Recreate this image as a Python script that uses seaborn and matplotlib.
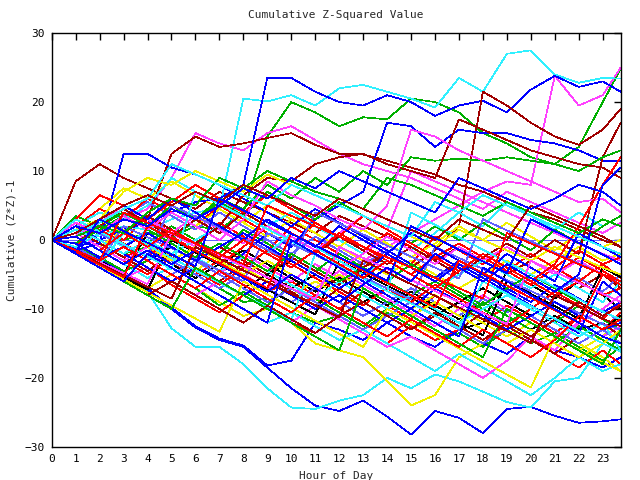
import pandas as pd
import matplotlib
matplotlib.use("Agg")
import matplotlib.pyplot as plt
import seaborn as sns

# ----------------------------------------
# Data: cumulative (Z*Z)-1, sampled each hour (last point 23:45)
# ----------------------------------------
hours = list(range(24)) + [23.75]

red_walks = [
    [0, 1.5, -0.5, -2.5, -1, -3.5, -5, -3, -5.5, -7.5, -6, -8, -10, -7.5, -9.5, -11.5, -8, -10, -12, -9.5, -11.5, -13.5, -11, -13, -10.5],
    [0, -1, 2, 0, 3.5, 1, -1, 2.5, 0.5, -1.5, 2, 0, -2, -4, -1.5, -3.5, 0.5, -1.5, -3.5, -1, -3, -5, -2.5, -4.5, -6],
    [0, -2, -4, -5.5, -4, -6.5, -8.5, -10.5, -8, -10, -12, -13.5, -11, -13, -15, -12.5, -14.5, -13, -15, -12, -14, -16.5, -18.5, -16, -18],
    [0, 2, 4.5, 3, 6, 4, 2, 5, 3, 1, -1, 2.5, 0.5, -1.5, 1, -1, -3, -5, -2.5, -4.5, -6.5, -4, -6, -3.5, -5.5],
    [0, 1, -1, -3, -5, -2.5, -4.5, -6.5, -4, -1.5, -3.5, -5.5, -7.5, -9.5, -7, -9, -6.5, -8.5, -10.5, -12.5, -10, -7.5, -9.5, -11.5, -9],
    [0, -0.5, 1.5, -0.5, -2.5, 0.5, -1.5, -3.5, -1, 2, 0, -2, 1, -1, -3, -5, -2.5, -0.5, -2.5, -4.5, -2, -4, -1.5, -3.5, -2.5],
    [0, 3, 6.5, 5, 3, 5.5, 8, 6, 4, 6.5, 4.5, 2.5, 0.5, 3.5, 1.5, -0.5, -2.5, -4.5, -2, -4, -6, -8, -6, -8, -7],
    [0, -1.5, -3, -1, -3, -5, -7, -4.5, -6.5, -8.5, -10.5, -8, -10, -12, -14, -11.5, -13.5, -15.5, -13, -15, -17, -14.5, -11, -13, -11.5],
    [0, 0.5, -1.5, 1, -1, 1.5, -0.5, -2.5, 0, -2, -4, -1.5, -3.5, -5.5, -3, -5, -7, -4.5, -2, -4, -6, -3.5, 2, 8, 12],
    [0, -1.8, -3.6, -5.4, 2, 0.2, -1.6, -3.4, -5.2, -7, 1, -0.8, -2.6, -4.4, -6.2, -8, -9.8, -3, -4.8, -6.6, -8.4, -10.2, -12, -5, -6.5],
    [0, -1.5, -3, 4, 2.5, 1, -0.5, -2, -3.5, 5, 3.5, 2, 0.5, -1, -2.5, -4, -5.5, -7, -8.5, 1, -0.5, -2, -3.5, -5, -6],
]

green_walks = [
    [0, 1.5, 1, 0, 1, 0.5, 2, 1.5, 4, 15, 20, 18.5, 16.5, 17.8, 17.5, 20.5, 20, 18.5, 15.5, 14, 12, 11, 13.5, 20, 24.8],
    [0, 2, 0, -2, -1, -3, -5, -7, -9, -8.5, -10.5, -12, -11, -13, -10.5, -12.5, -14.5, -13.5, -15.5, -13, -15, -13.5, -15.5, -17.5, -15.5],
    [0, 1, 3, 1.5, -0.5, 2, 0, -2, 1.5, -0.5, -2.5, -4.5, -2, -4, -6, -8, -6, -8, -10, -12, -10, -12, -9.5, -11.5, -13],
    [0, -1, -2.5, -4.5, -3, -5, -7, -9.5, -7.5, -9.5, -6.5, -8.5, -10.5, -12.5, -10, -8, -10, -12, -9, -11, -13, -15, -12.5, -14.5, -16],
    [0, 3.5, 2, 4, 2, 0, 3, 5.5, 3.5, 7, 5, 3, 5.5, 3.5, 1.5, -0.5, 2, 0, 2.5, 0.5, -1.5, 1.5, -0.5, 2, 3.5],
    [0, 1, 2.5, 4, 2, 5, 3, 6, 4.5, 8, 6, 9, 7, 10, 8, 12, 11.5, 11.8, 11.5, 12, 11.5, 11, 10, 12, 13],
    [0, -0.5, 1.5, 3.5, 1.5, -0.5, -2.5, -0.5, -2.5, -4.5, -2, -4, -6, -4, -6, -3.5, -5.5, -7.5, -9.5, -7, -5, -7, -9, -11, -9.5],
    [0, -2, -4, -6, -8, -10, -4, -6, -8, -10, -12, -14, -16, -7, -9, -11, -13, -15, -17, -10, -12, -14, -16, -18, -13],
    [0, 0.5, 2, 1, 4, 6, 5, 9, 7.5, 10, 8.5, 7, 6, 4.5, 9, 8, 6.5, 5, 3.5, 5.5, 4, 2.5, 1, 3, 2],
]

blue_walks = [
    [0, -1.5, -3, -4.8, -7, -10, -12.7, -14.5, -15.5, -18.5, -21.5, -24, -24.8, -23.3, -25.6, -28.2, -24.8, -25.8, -28, -24.5, -24.2, -25.5, -26.5, -26.3, -26],
    [0, -1.3, -2.8, -4.5, -7.2, -9.8, -12.5, -14.3, -15.3, -18.2, -17.5, -12, -13, -14.5, -12, -14, -15.5, -13, -15, -16.5, -14, -16, -17, -18.5, -17],
    [0, -1, 0, 1.5, 2.5, 4, 5.5, 6, 8, 23.5, 23.5, 21.5, 20, 19.5, 21, 20, 18, 19.5, 20.2, 18.5, 21.8, 23.8, 22.2, 23, 21.5],
    [0, -1, 1, -1, -3, -0.5, -2.5, -4.5, -2, 1, -1, 3, 5, 7, 17, 16.5, 13.5, 16, 15.5, 15.5, 14.5, 14, 13, 11.5, 11.5],
    [0, -1.5, -0.5, 12.5, 12.5, 10.5, 9.5, 8, 6, 4, 2, 4.5, 2.5, 0.5, -1.5, -3.5, -5.5, -3, -5, -7, -9, -6.5, -8.5, -10.5, -9],
    [0, 2, 0, -2, -4, -6, -4, -6, -8, -6, -8, -10, -8, -10, -12, -10, -7, -9, -11, -13, -11, -9, -11, -13, -12],
    [0, -0.5, -2.5, -1, 1, -1, -3, -1, 1, -1, -3, -5, -7, -5, -2, -4, -6, -3.5, -5.5, -7.5, -9.5, -11.5, -13.5, -6, -8],
    [0, 1, 3, 5, 3, 6, 4, 2, 0, 3, 1, -1, 2, 0, -2, 1, -1, -3, -5, -2, -4, -6, 1, -1, -2.5],
    [0, 0.5, -1.5, -3.5, -1.5, -3.5, -1.5, -3.5, -5.5, -7.5, -5, -7, -9, -6.5, -4, -6, -2, -4, -6, -3.5, -5.5, -7.5, -5, 8, 10.5],
    [0, -1.7, 3, 1.3, -0.4, -2.1, -3.8, 6, 4.3, 2.6, 0.9, -0.8, -2.5, -4.2, -5.9, 2, 0.3, -1.4, -3.1, -4.8, 3, 1.3, -0.4, -2.1, -3.5],
    [0, -2, -4, -6, -2, -4, -6, -8, -10, -12, 0, -2, -4, -6, -8, -10, -12, -14, -4, -6, -8, -10, -12, -14, -15],
    [0, 2, 1, 3, 2, 4.5, 3, 5, 7.5, 6, 9, 7.5, 10, 8.5, 7, 5.5, 4, 9, 7.5, 6, 4.5, 6, 8, 7, 5],
]

magenta_walks = [
    [0, 2, 1, 3, 4.5, 9, 15.5, 14, 13, 15.5, 16.5, 14.5, 12.5, 11, 10, 9, 7.5, 6, 4.5, 7, 5.5, 4, 2.5, 1, 2.5],
    [0, -1, 1, -1, -3, -5, -3, -5, -2, -4, -6, -3.5, -5.5, -3, -1, 1, 3, 5, 7, 8.5, 8, 23.8, 19.5, 21, 25],
    [0, 1, 3, 1, -1, 1.5, -0.5, 2, 0, -2, 0.5, -1.5, 1, 3.5, 1.5, 10, 8.5, 7, 5.5, 4, 2.5, 1, -0.5, -2, -3],
    [0, -1.5, -3.5, -5.5, -4, -6, -8, -6, -8, -10, -12, -9.5, -11.5, -13.5, -15.5, -14, -16, -18, -20, -17.5, -14, -16, -12, -14, -12.5],
    [0, 1, -1, -3, -1, 1, -1, -3, -5, -7, -5, -7, -4.5, -6.5, -8.5, -10.5, -12.5, -10, -8, -10, -12, -14, -12, -10, -8],
    [0, 0.5, 2.5, 5, 3, 1, 3.5, 1.5, -0.5, 2, 0, -2, -4, -2, 0.5, -1.5, -3.5, -1, -3, -1, -3, -5, -3, -5, -6.5],
    [0, 2.5, 1, 3.5, 1.5, 4, 2, 0, 3, 8.5, 6.5, 5, 3, 1.5, 5, 16, 15, 13, 11.5, 10, 8.5, 7, 5.5, 6, 4],
    [0, -1.6, -3.2, -4.8, -6.4, 1, -0.6, -2.2, -3.8, -5.4, -7, -8.6, -1, -2.6, -4.2, -5.8, -7.4, -9, -10.6, -12.2, -3, -4.6, -6.2, -7.8, -9],
]

cyan_walks = [
    [0, -1.2, -3, -5, -7.5, -12.8, -15.5, -15.5, -18, -21.5, -24.3, -24.5, -23.3, -22.5, -20, -21.5, -19.5, -20.5, -22, -23.5, -24.3, -20.5, -20, -15, -13.5],
    [0, 1, 0.5, 2, 1.5, 3, 4, 4.5, 20.5, 20.1, 21, 19.5, 22, 22.5, 21.5, 20.5, 19.2, 23.5, 21.5, 27, 27.5, 24, 22.8, 23.5, 23.4],
    [0, 0.5, -1.5, -3.5, -5.5, -4, -6, -8, -10, -12, -10.5, -12.5, -14.5, -13, -15, -17, -19, -16.5, -18.5, -20.5, -22.5, -20, -17, -19, -18],
    [0, 2, 4, 3, 5, 9, 7, 5.5, 4, 2, 4, 2, 0, -2, 0.5, -1.5, 1, 4, 2, 5.5, 3.5, 1.5, 4, 2, 3.5],
    [0, -1, 1, -1, 1.5, -0.5, -2.5, -4.5, -2.5, -4.5, -6.5, -8.5, -6, -8, -10, -8, -10, -12, -10, -8, -10, -12, -14, -12, -16],
    [0, 1.5, 0, -2, 0, -2, 0, 2, 0, -2, 1, -1, -3, -5, -3, -5, -7, -5, -3, -5, -7, -5, -7, -9, -6],
    [0, -1.8, -3.6, 1, -0.8, -2.6, -4.4, -6.2, -8, -9.8, -11.6, -2, -3.8, -5.6, -7.4, 4, 2.2, 0.4, -1.4, -3.2, -5, -6.8, -8.6, -10.4, -11.5],
    [0, 3, 1.2, -0.6, -2.4, -4.2, 7, 5.2, 3.4, 1.6, -0.2, -2, -3.8, -5.6, -7.4, -9.2, -11, -12.8, -6, -7.8, -9.6, -11.4, -13.2, -15, -16.2],
    [0, 1, 2.5, 4.5, 6, 11, 9.5, 8, 6.5, 5, 8, 6.5, 5, 3.5, 2, 0.5, 5.5, 4, 6.5, 5, 3.5, 2, 0.5, -1, -2],
]

darkred_walks = [
    [0, 8.5, 11, 9, 7.5, 6, 4.5, 7, 5.5, 4, 2.5, 1, 3.5, 2, 0.5, -1, -3, -1, -3, -5, -3, -5, -7, -5, -7],
    [0, 1, -1, 1.5, 3, 12.5, 15, 13.5, 14, 14.8, 15.5, 13.8, 12.5, 12.4, 11.5, 10.5, 9.5, 8, 7, 5.5, 4, 3, 1.5, 0, -1],
    [0, -1, -3, -1, -3, -5, -3, -1, -3, -5, -2.5, -4.5, -6.5, -4, -2, -4, -1.5, 2, 21.5, 19.5, 17, 15, 13.8, 16, 19],
    [0, 1.5, -0.5, -2.5, -4.5, -2, -4, -6, -3.5, -5.5, -7.5, -9.5, -7, -9, -11, -13, -11, -13, -10.5, -12.5, -14.5, -16.5, -14, -12, -14],
    [0, -0.5, 2, 4.5, 2.5, 0.5, 3, 1, 4, 2, 0, -2, 0.5, -1.5, -3.5, -1, -3, -5, -2.5, -0.5, -2.5, 0, -2, 12, 17],
    [0, 0.5, -1.5, 1, 3.5, 1.5, -0.5, 2, 6.5, 9, 8.5, 11, 12, 12.5, 11, 10, 9, 17.5, 16, 14.5, 13, 12, 11, 10.5, 9],
    [0, -2, -4, -6, -8, -6, -8, -10, -12, -9.5, -11.5, -13.5, -11, -9, -11, -13, -10.5, -12.5, -14.5, -12, -14, -11.5, -9, -11, -9.5],
    [0, -1.7, -3.4, -5.1, -6.8, -8.5, -1, -2.7, -4.4, -6.1, -7.8, -9.5, -11.2, -3, -4.7, -6.4, -8.1, -9.8, -11.5, -13.2, -14.9, -8, -9.7, -11.4, -12.5],
    [0, 1, 3, 5, 6.5, 5, 7, 5.5, 8, 6.5, 5, 3.5, 6, 4.5, 3, 1.5, 0, 3, 1.5, 0, 5, 3.5, 2, 0.5, -1],
]

yellow_walks = [
    [0, 2, 4.5, 7.5, 6, 8.5, 6.5, 4.5, 2.5, 5, 3, 1, -1, -3, -5, -3, -5, -7, -5, -3, -5, -3, -1, -3, -2],
    [0, -1, -3, -5, -7, -5, -7, -9, -11, -10, -12, -15, -16, -17, -20.5, -24, -22.5, -17, -15, -13, -11, -13, -15, -17, -19],
    [0, 1, -1, 1.5, -0.5, -2.5, -4.5, -2, -4, -6, -8, -6, -8, -10, -12, -10, -8, -10, -12, -14, -12, -14, -16, -14, -11],
    [0, -0.5, 1.5, 3.5, 1.5, 4, 2, 4.5, 2.5, 0.5, 3, 1, -1, 1.5, -0.5, -2.5, -0.5, 2, 0, 2.5, 0.5, -1.5, 1, -1, 0],
    [0, 1.5, 3, 1, -1, -3, -1, -3, -5, -3, -5, -7, -5, -7, -9, -11, -9, -11, -13, -15, -13, -15, -17, -15, -13],
    [0, -1.9, -3.8, -5.7, -7.6, -9.5, -11.4, -13.3, -6, -7.9, -9.8, -11.7, -13.6, -15.5, -10, -11.9, -13.8, -15.7, -17.6, -19.5, -21.4, -14, -15.9, -17.8, -19],
    [0, 1, 3, 7, 9, 8, 10, 8.5, 7, 9.5, 8, 6.5, 5, 3.5, 2, 0.5, -1, 1.5, 0, -1.5, -3, -1, -2.5, -4, -5],
]

black_walks = [
    [0, -1, 1, -1, -3, -1, -3, -5, -7, -5, -7, -5, -7, -9, -11, -9, -11, -13, -12, -4.5, -6.5, -8.5, -6, -8, -10],
    [0, 0.5, -1.5, -3.5, -1.5, -3.5, -5.5, -3.5, -1.5, -3.5, -5.5, -7.5, -5.5, -7.5, -9.5, -7.5, -9.5, -11.5, -9, -11, -13, -11, -13, -12, -14],
    [0, -1, -3, -5, 1, -1, -3, -5, -7, -5, -3, -5, -7, -9, -7, -9, -11, -9, -7, -9, -11, -9, -11, -13, -11],
    [0, -1.8, -3.6, -5.4, -7.2, 0, -1.8, -3.6, -5.4, -7.2, -9, -10.8, -3, -4.8, -6.6, -8.4, -10.2, -12, -13.8, -6, -7.8, -9.6, -11.4, -4, -5.4],
]

slate_walks = [
    [0] * 25,
    [0, 1, -1, -3, -1, -3, -5, -7, -5, -7, -9, -7, -9, -11, -9, -7, -9, -11, -8.5, -10.5, -8, -10, -12, -10, -12],
    [0, -0.5, 1.5, 3.5, 5.5, 3.5, 1.5, 4, 2, 0, -2, 0.5, -1.5, -3.5, -1.5, -3.5, -5.5, -3.5, -5.5, -7.5, -5.5, -7.5, -5.5, -7.5, -5],
    [0, -1, -3, -1, -3, -5, -3, -5, -7, -9, -7, -9, -11, -13, -11, -9, -11, -13, -15, -13, -11, -13, -15, -13, -15],
    [0, -1.6, -3.2, 2, 0.4, -1.2, -2.8, -4.4, -6, 1, -0.6, -2.2, -3.8, -5.4, -7, -8.6, -1, -2.6, -4.2, -5.8, -7.4, -9, -10.6, -12.2, -13],
    [0, 2.5, 0.9, -0.7, -2.3, 5, 3.4, 1.8, 0.2, -1.4, -3, 4, 2.4, 0.8, -0.8, -2.4, -4, -5.6, 3, 1.4, -0.2, -1.8, -3.4, -5, -6],
]

# ----------------------------------------
# Long table, colours interleaved like gnuplot's line types
# ----------------------------------------
groups = [
    (red_walks, "#ff0000"),
    (green_walks, "#00b000"),
    (blue_walks, "#0000ff"),
    (magenta_walks, "#ff40ff"),
    (cyan_walks, "#30f0ff"),
    (darkred_walks, "#a00000"),
    (yellow_walks, "#f0f000"),
    (black_walks, "#000000"),
    (slate_walks, "#6060ff"),
]

rows = []
palette = {}
walk_order = []
max_len = max(len(g) for g, _ in groups)
for i in range(max_len):
    for walks, color in groups:
        if i < len(walks):
            name = f"{color}_{i}"
            palette[name] = color
            walk_order.append(name)
            for h, v in zip(hours, walks[i]):
                rows.append({"hour": h, "value": v, "walk": name})
df = pd.DataFrame(rows)

# ----------------------------------------
# Plot
# ----------------------------------------
sns.set_style("white")
plt.rcParams["font.family"] = ["DejaVu Sans Mono"]

fig = plt.figure(figsize=(6.4, 4.8), dpi=100)
ax = fig.add_axes([0.0808, 0.069, 0.889, 0.862])

sns.lineplot(data=df, x="hour", y="value", hue="walk", hue_order=walk_order,
             palette=palette, estimator=None, sort=False, legend=False,
             linewidth=0.5, antialiased=False, ax=ax)

ax.set_xlim(0, 23.75)
ax.set_ylim(-30, 30)
ax.set_xticks(range(24))
ax.set_yticks(range(-30, 31, 10))
ax.tick_params(direction="in", length=5, width=1, top=True, right=True,
               labelsize=8, colors="black", pad=5)
for s in ax.spines.values():
    s.set_color("black")
    s.set_linewidth(1)

ax.set_title("Cumulative Z-Squared Value", fontsize=8, pad=11)
ax.set_xlabel("Hour of Day", fontsize=8, labelpad=5)
ax.set_ylabel("Cumulative (Z*Z)-1", fontsize=8, labelpad=6)

plt.savefig("out.png", dpi=100)
